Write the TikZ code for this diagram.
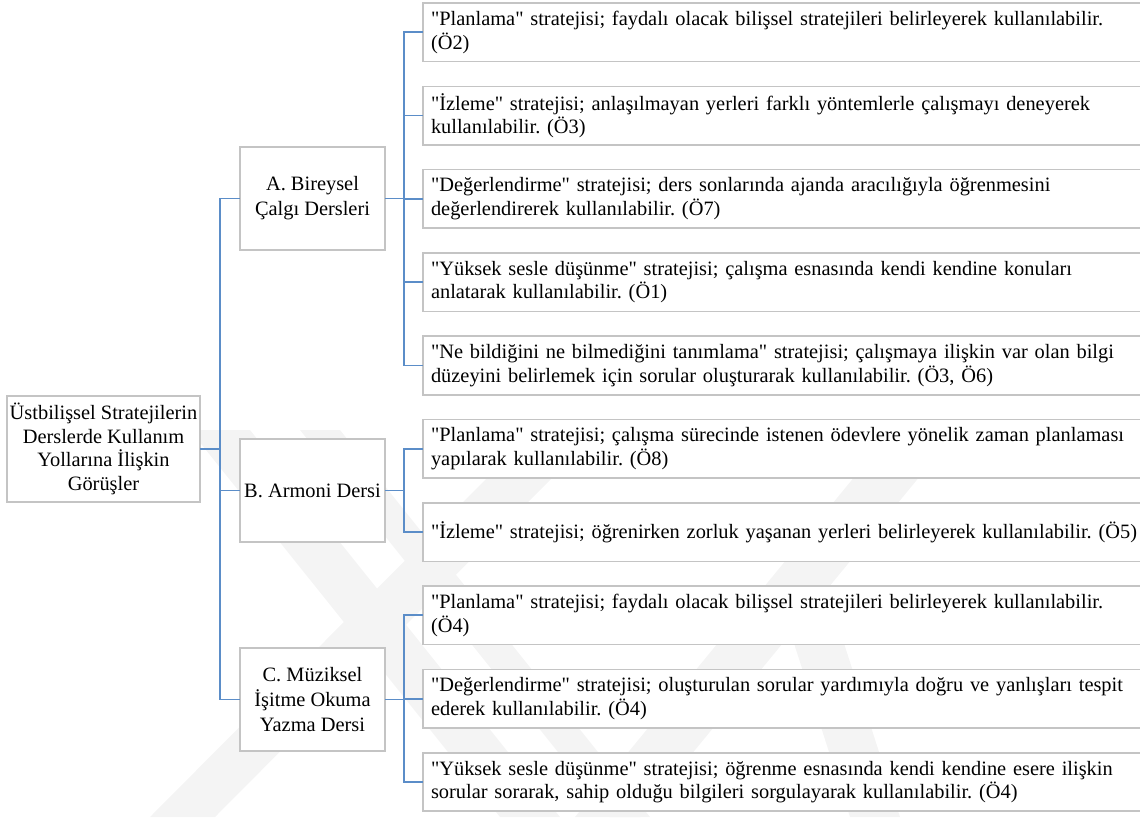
\documentclass[tikz,border=0pt]{standalone}
\usepackage{fontspec}
\setmainfont{Liberation Serif}[Ligatures=TeXOff]
\frenchspacing
\usetikzlibrary{calc}

\definecolor{linkblue}{HTML}{5B8DC8}
\definecolor{boxgray}{HTML}{C4C4C4}
\definecolor{markgray}{HTML}{F4F4F4}

\tikzset{
  box/.style={draw=boxgray, line width=1.6pt, fill=white, outer sep=0pt,
    inner sep=0pt, anchor=north west},
  rootbox/.style={box, minimum width=193pt, minimum height=106pt,
    align=center, font=\fontsize{20.4pt}{23.5pt}\selectfont},
  midbox/.style={box, minimum width=145pt, minimum height=103pt,
    align=center, font=\fontsize{20.4pt}{25pt}\selectfont},
  leafbox/.style={box, minimum width=740pt, minimum height=58.5pt,
    text width=724pt, align=left, inner xsep=8pt,
    font=\fontsize{20.4pt}{23.5pt}\selectfont},
  link/.style={draw=linkblue, line width=1.8pt},
}

\begin{document}
\begin{tikzpicture}[x=1pt, y=-1pt]
\useasboundingbox (0,0) rectangle (1140,817);

% faint background emblem
\begin{scope}
  \fill[markgray] (190,430) -- (250,430) -- (560,817) -- (500,817) -- cycle;
  \fill[markgray] (300,430) -- (340,430) -- (650,817) -- (610,817) -- cycle;
  \fill[markgray] (150,817) -- (215,817) -- (560,470) -- (495,470) -- cycle;
  \fill[markgray] (860,470) -- (925,470) -- (640,817) -- (575,817) -- cycle;
  \fill[markgray] (780,600) -- (830,600) -- (900,817) -- (850,817) -- cycle;
\end{scope}

% root
\node[rootbox] (root) at (7,396)
  {Üstbilişsel Stratejilerin\\Derslerde Kullanım\\Yollarına İlişkin\\Görüşler};

% courses
\node[midbox] (A) at (240,147) {A. Bireysel\\Çalgı Dersleri};
\node[midbox] (B) at (240,439) {B. Armoni Dersi};
\node[midbox] (C) at (240,648) {C. Müziksel\\İşitme Okuma\\Yazma Dersi};

% strategies, course A
\node[leafbox] (a1) at (423,3)
  {"Planlama" stratejisi; faydalı olacak bilişsel stratejileri belirleyerek kullanılabilir.\\(Ö2)};
\node[leafbox] (a2) at (423,86.3)
  {"İzleme" stratejisi; anlaşılmayan yerleri farklı yöntemlerle çalışmayı deneyerek\\kullanılabilir. (Ö3)};
\node[leafbox] (a3) at (423,169.6)
  {"Değerlendirme" stratejisi; ders sonlarında ajanda aracılığıyla öğrenmesini\\değerlendirerek kullanılabilir. (Ö7)};
\node[leafbox] (a4) at (423,252.9)
  {"Yüksek sesle düşünme" stratejisi; çalışma esnasında kendi kendine konuları\\anlatarak kullanılabilir. (Ö1)};
\node[leafbox] (a5) at (423,336.2)
  {"Ne bildiğini ne bilmediğini tanımlama" stratejisi; çalışmaya ilişkin var olan bilgi\\düzeyini belirlemek için sorular oluşturarak kullanılabilir. (Ö3, Ö6)};

% strategies, course B
\node[leafbox] (b1) at (423,419.5)
  {"Planlama" stratejisi; çalışma sürecinde istenen ödevlere yönelik zaman planlaması\\yapılarak kullanılabilir. (Ö8)};
\node[leafbox] (b2) at (423,502.8)
  {"İzleme" stratejisi; öğrenirken zorluk yaşanan yerleri belirleyerek kullanılabilir. (Ö5)};

% strategies, course C
\node[leafbox] (c1) at (423,586.1)
  {"Planlama" stratejisi; faydalı olacak bilişsel stratejileri belirleyerek kullanılabilir.\\(Ö4)};
\node[leafbox] (c2) at (423,669.4)
  {"Değerlendirme" stratejisi; oluşturulan sorular yardımıyla doğru ve yanlışları tespit\\ederek kullanılabilir. (Ö4)};
\node[leafbox] (c3) at (423,752.7)
  {"Yüksek sesle düşünme" stratejisi; öğrenme esnasında kendi kendine esere ilişkin\\sorular sorarak, sahip olduğu bilgileri sorgulayarak kullanılabilir. (Ö4)};

% connectors: root to courses
\foreach \m in {A,B,C}
  \draw[link] (root.east) -| ([xshift=-20pt]\m.west) -- (\m.west);

% connectors: courses to strategies
\foreach \l in {a1,a2,a3,a4,a5}
  \draw[link] (A.east) -| ([xshift=-19pt]\l.west) -- (\l.west);
\foreach \l in {b1,b2}
  \draw[link] (B.east) -| ([xshift=-19pt]\l.west) -- (\l.west);
\foreach \l in {c1,c2,c3}
  \draw[link] (C.east) -| ([xshift=-19pt]\l.west) -- (\l.west);
\end{tikzpicture}
\end{document}
